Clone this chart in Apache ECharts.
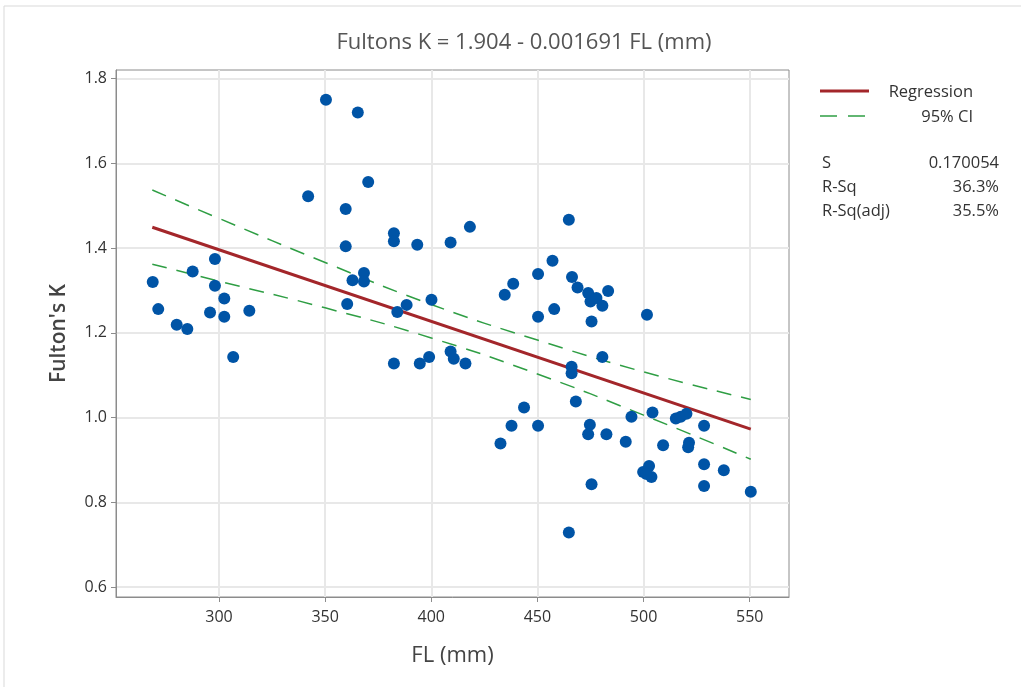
<!DOCTYPE html>
<html><head><meta charset="utf-8">
<script src="https://cdn.jsdelivr.net/npm/echarts@6/dist/echarts.min.js"></script>
<style>html,body{margin:0;padding:0;background:#fff}#c{width:1021px;height:687px}</style>
</head><body><div id="c"></div>
<script>
const flValues = [268.8,271.4,280.1,285.1,287.6,298.1,298.1,295.8,302.5,302.5,314.3,306.7,
  350.4,365.4,370.3,342.0,359.7,359.7,382.4,382.4,393.4,409.1,418.2,368.3,362.9,368.3,360.4,388.4,384.0,400.1,
  382.4,394.6,399.0,409.1,410.6,416.1,
  464.8,457.1,450.3,438.6,434.6,450.3,457.9,466.3,468.9,473.9,475.0,477.8,480.6,483.3,475.5,480.6,
  466.1,466.1,468.1,443.7,437.8,450.3,432.6,474.7,473.9,482.5,475.5,464.8,
  501.6,494.3,491.6,504.2,509.2,515.2,517.5,520.2,528.5,521.4,521.0,499.8,502.6,503.7,501.4,528.5,537.8,528.5,550.5];
const kValues = [1.320,1.256,1.219,1.209,1.345,1.374,1.311,1.248,1.281,1.238,1.252,1.143,
  1.750,1.720,1.556,1.522,1.492,1.404,1.435,1.416,1.408,1.413,1.450,1.341,1.324,1.321,1.268,1.266,1.249,1.278,
  1.128,1.128,1.143,1.156,1.139,1.128,
  1.467,1.370,1.339,1.316,1.290,1.238,1.256,1.332,1.307,1.294,1.274,1.282,1.264,1.299,1.227,1.143,
  1.120,1.105,1.038,1.024,0.981,0.981,0.939,0.983,0.961,0.961,0.843,0.729,
  1.243,1.002,0.943,1.012,0.935,0.998,1.002,1.009,0.981,0.941,0.930,0.872,0.886,0.860,0.867,0.890,0.876,0.839,0.825];
const fitX = [268.6, 550.5];
const fitY = [1.449, 0.973];
const ciX = [268.6, 300, 350, 400, 450, 500, 550.5];
const ciUpper = [1.537, 1.470, 1.366, 1.267, 1.183, 1.108, 1.043];
const ciLower = [1.362, 1.322, 1.259, 1.188, 1.103, 1.006, 0.902];
const xTicks = [300, 350, 400, 450, 500, 550];
const yTicks = [0.6, 0.8, 1.0, 1.2, 1.4, 1.6, 1.8];
const titleText = 'Fultons K = 1.904 - 0.001691 FL (mm)';
const statNames = ['S', 'R-Sq', 'R-Sq(adj)'];
const statValues = ['0.170054', '36.3%', '35.5%'];

const FONT = '"Open Sans", "Noto Sans", sans-serif';
const pts = flValues.map((x, i) => [x, kValues[i]]);
const zip = (a, b) => a.map((x, i) => [x, b[i]]);

const chart = echarts.init(document.getElementById('c'), null, {renderer: 'canvas'});
const statGraphics = [];
const statY = [163, 187, 211];
const LF = '16.5px ' + FONT;
statNames.forEach((n, i) => {
  statGraphics.push({type: 'text', x: 822, y: statY[i], style: {text: n, font: LF, fill: '#333', verticalAlign: 'middle'}});
  statGraphics.push({type: 'text', x: 999, y: statY[i], style: {text: statValues[i], font: LF, fill: '#333', align: 'right', verticalAlign: 'middle'}});
});

chart.setOption({
  animation: false,
  backgroundColor: '#fff',
  textStyle: {fontFamily: FONT},
  title: {
    text: titleText, left: 519, top: 27, textAlign: 'center',
    textStyle: {fontFamily: FONT, fontSize: 22, fontWeight: 'normal', color: '#555'}
  },
  grid: {left: 116, right: 232, top: 70, bottom: 90, show: true, borderColor: '#8c8c8c', borderWidth: 1},
  xAxis: {
    type: 'value', min: 251.5, max: 568.5,
    name: 'FL (mm)', nameLocation: 'middle', nameGap: 48,
    nameTextStyle: {fontFamily: FONT, fontSize: 22, color: '#444', fontWeight: 500},
    axisLine: {show: true, onZero: false, lineStyle: {color: '#8c8c8c'}},
    axisTick: {show: true, length: 5, lineStyle: {color: '#8c8c8c'}, customValues: xTicks},
    axisLabel: {customValues: xTicks, margin: 12, fontSize: 16, color: '#333', fontFamily: FONT},
    splitLine: {show: true, lineStyle: {color: '#e8e8e8', width: 2}}
  },
  yAxis: {
    type: 'value', min: 0.577, max: 1.82,
    name: "Fulton's K", nameLocation: 'middle', nameGap: 46,
    nameTextStyle: {fontFamily: FONT, fontSize: 21, color: '#444', fontWeight: 600},
    axisLine: {show: true, onZero: false, lineStyle: {color: '#8c8c8c'}},
    axisTick: {show: true, length: 5, lineStyle: {color: '#8c8c8c'}, customValues: yTicks},
    axisLabel: {customValues: yTicks, margin: 9, fontSize: 16, color: '#333', fontFamily: FONT,
      formatter: v => Number(v).toFixed(1)},
    splitLine: {show: true, lineStyle: {color: '#e8e8e8', width: 2}}
  },
  series: [
    {type: 'line', data: zip(ciX, ciUpper), symbol: 'none', smooth: true, z: 2, silent: true,
     lineStyle: {color: '#2f9e44', width: 1.5, type: [15, 10]}},
    {type: 'line', data: zip(ciX, ciLower), symbol: 'none', smooth: true, z: 2, silent: true,
     lineStyle: {color: '#2f9e44', width: 1.5, type: [15, 10]}},
    {type: 'line', data: zip(fitX, fitY), symbol: 'none', z: 3, silent: true,
     lineStyle: {color: '#a3262a', width: 3}},
    {type: 'scatter', data: pts, symbol: 'circle', symbolSize: 12, z: 5,
     itemStyle: {color: '#0054a6', opacity: 1}}
  ],
  graphic: [
    {type: 'rect', shape: {x: 4, y: 6, width: 1100, height: 800}, style: {fill: 'none', stroke: '#d9d9d9', lineWidth: 1}, z: -1},
    {type: 'line', shape: {x1: 820, y1: 91, x2: 869, y2: 91}, style: {stroke: '#a3262a', lineWidth: 3}},
    {type: 'text', x: 973, y: 92, style: {text: 'Regression', font: LF, fill: '#333', align: 'right', verticalAlign: 'middle'}},
    {type: 'line', shape: {x1: 820, y1: 116, x2: 869, y2: 116}, style: {stroke: '#2f9e44', lineWidth: 1.5, lineDash: [17, 11]}},
    {type: 'text', x: 973, y: 117, style: {text: '95% CI', font: LF, fill: '#333', align: 'right', verticalAlign: 'middle'}},
    ...statGraphics
  ]
});
</script></body></html>
